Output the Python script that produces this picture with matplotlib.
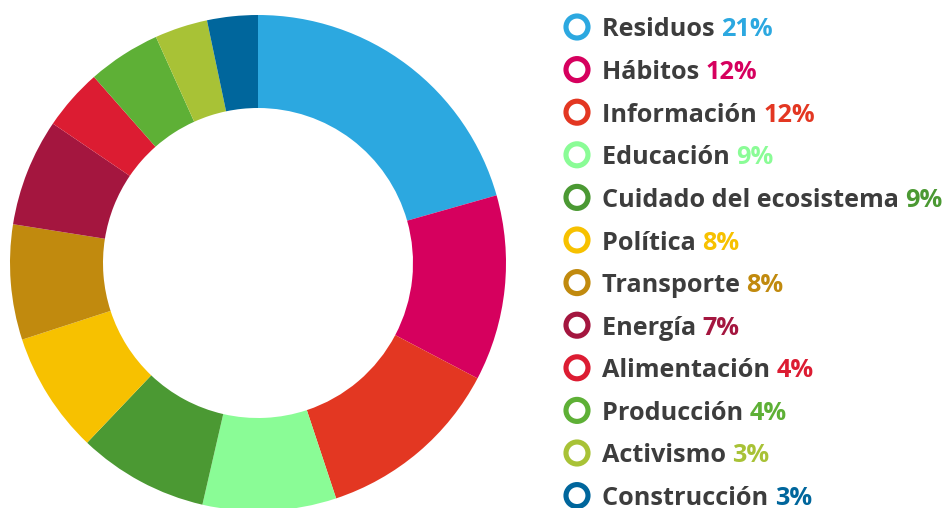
import matplotlib
matplotlib.use("Agg")
import matplotlib.pyplot as plt
from matplotlib.patches import Circle

categories = ["Residuos", "Hábitos", "Información", "Educación", "Cuidado del ecosistema",
              "Política", "Transporte", "Energía", "Alimentación", "Producción",
              "Activismo", "Construcción"]
# slice shares as read from the ring
values = [20.6, 12.1, 12.2, 8.7, 8.5, 7.9, 7.5, 7.0, 4.0, 4.75, 3.45, 3.3]
# percentages as printed in the legend
pct_labels = ["21%", "12%", "12%", "9%", "9%", "8%", "8%", "7%", "4%", "4%", "3%", "3%"]
colors = ["#2ca8e0", "#d6005e", "#e33722", "#8afc96", "#4b9933", "#f7c100",
          "#c18a0e", "#a4163f", "#dc1c32", "#5eb036", "#a8c236", "#00669c"]

W, H = 948, 508
fig = plt.figure(figsize=(W / 100, H / 100), dpi=100)
ax = fig.add_axes([0, 0, 1, 1])

cx, cy, R = 258, H - 263, 248
ax.pie(values, colors=colors, startangle=90, counterclock=False,
       center=(cx, cy), radius=R,
       wedgeprops=dict(width=R * 0.375, linewidth=0))
ax.set_xlim(0, W)
ax.set_ylim(0, H)
ax.set_aspect("auto")
ax.axis("off")

font = "Open Sans"
fs = 18.2
y0, dy = 27, 42.6
renderer = fig.canvas.get_renderer()
for i, (cat, p, c) in enumerate(zip(categories, pct_labels, colors)):
    y = H - (y0 + i * dy)
    ax.add_patch(Circle((577, y), 11, facecolor="white", edgecolor=c, lw=3.7))
    t = ax.text(602, y, cat + " ", fontsize=fs, fontweight="bold", family=font,
                color="#3d3d3d", va="center_baseline", ha="left")
    bb = t.get_window_extent(renderer=renderer)
    x1 = ax.transData.inverted().transform((bb.x1, bb.y0))[0]
    ax.text(x1, y, p, fontsize=fs, fontweight="bold", family=font,
            color=c, va="center_baseline", ha="left")

fig.savefig("out.png", dpi=100)
